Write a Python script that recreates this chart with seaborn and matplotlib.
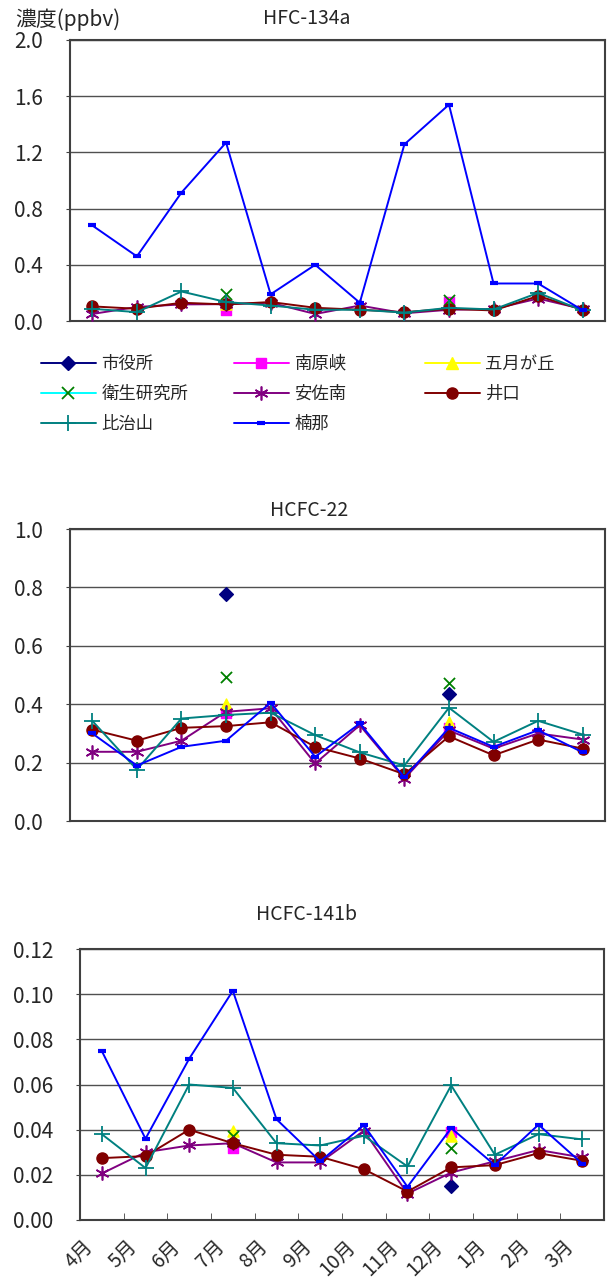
import numpy as np
import pandas as pd
import seaborn as sns
import matplotlib.pyplot as plt
from matplotlib.transforms import ScaledTranslation

sns.set_style("white")
plt.rcParams['font.family'] = ['Noto Sans CJK JP', 'DejaVu Sans']

nan = np.nan
months = ['4月', '5月', '6月', '7月', '8月', '9月', '10月', '11月', '12月', '1月', '2月', '3月']
stations = ['市役所', '南原峡', '五月が丘', '衛生研究所', '安佐南', '井口', '比治山', '楠那']

# HFC-134a
hfc134a_shiyakusho = [nan, nan, nan, 0.12, nan, nan, nan, nan, 0.09, nan, nan, nan]
hfc134a_nanbara = [nan, nan, nan, 0.08, nan, nan, nan, nan, 0.135, nan, nan, nan]
hfc134a_satsukigaoka = [nan, nan, nan, 0.12, nan, nan, nan, nan, 0.12, nan, nan, nan]
hfc134a_eisei = [nan, nan, nan, 0.19, nan, nan, nan, nan, 0.147, nan, nan, nan]
hfc134a_asaminami = [0.05, 0.10, 0.118, 0.12, 0.13, 0.05, 0.11, 0.055, 0.08, 0.085, 0.16, 0.085]
hfc134a_inokuchi = [0.104, 0.087, 0.13, 0.118, 0.135, 0.094, 0.08, 0.063, 0.087, 0.075, 0.178, 0.08]
hfc134a_hijiyama = [0.087, 0.063, 0.21, 0.135, 0.11, 0.08, 0.08, 0.06, 0.094, 0.082, 0.20, 0.075]
hfc134a_kusuna = [0.68, 0.46, 0.914, 1.27, 0.19, 0.40, 0.13, 1.257, 1.54, 0.267, 0.267, 0.076]

# HCFC-22
hcfc22_shiyakusho = [nan, nan, nan, 0.779, nan, nan, nan, nan, 0.436, nan, nan, nan]
hcfc22_nanbara = [nan, nan, nan, 0.37, nan, nan, nan, nan, 0.317, nan, nan, nan]
hcfc22_satsukigaoka = [nan, nan, nan, 0.40, nan, nan, nan, nan, 0.34, nan, nan, nan]
hcfc22_eisei = [nan, nan, nan, 0.494, nan, nan, nan, nan, 0.471, nan, nan, nan]
hcfc22_asaminami = [0.237, 0.237, 0.275, 0.374, 0.386, 0.197, 0.328, 0.145, 0.31, 0.248, 0.30, 0.279]
hcfc22_inokuchi = [0.313, 0.275, 0.319, 0.325, 0.338, 0.254, 0.214, 0.16, 0.29, 0.225, 0.279, 0.248]
hcfc22_hijiyama = [0.343, 0.176, 0.351, 0.363, 0.371, 0.294, 0.235, 0.19, 0.388, 0.271, 0.343, 0.296]
hcfc22_kusuna = [0.30, 0.19, 0.254, 0.275, 0.405, 0.22, 0.334, 0.149, 0.319, 0.254, 0.311, 0.235]

# HCFC-141b
hcfc141b_shiyakusho = [nan, nan, nan, 0.034, nan, nan, nan, nan, 0.015, nan, nan, nan]
hcfc141b_nanbara = [nan, nan, nan, 0.032, nan, nan, nan, nan, 0.0388, nan, nan, nan]
hcfc141b_satsukigaoka = [nan, nan, nan, 0.0395, nan, nan, nan, nan, 0.037, nan, nan, nan]
hcfc141b_eisei = [nan, nan, nan, 0.037, nan, nan, nan, nan, 0.032, nan, nan, nan]
hcfc141b_asaminami = [0.0206, 0.030, 0.033, 0.034, 0.0255, 0.0255, 0.0395, 0.0117, 0.021, 0.026, 0.031, 0.0277]
hcfc141b_inokuchi = [0.0274, 0.0283, 0.040, 0.034, 0.0289, 0.028, 0.0225, 0.0126, 0.0233, 0.0243, 0.0296, 0.0262]
hcfc141b_hijiyama = [0.038, 0.023, 0.060, 0.0585, 0.034, 0.033, 0.0373, 0.0237, 0.0596, 0.0289, 0.038, 0.0357]
hcfc141b_kusuna = [0.0748, 0.036, 0.0714, 0.1015, 0.0446, 0.026, 0.042, 0.0147, 0.0407, 0.0243, 0.0422, 0.025]

data = {
    'HFC-134a': [hfc134a_shiyakusho, hfc134a_nanbara, hfc134a_satsukigaoka, hfc134a_eisei,
                 hfc134a_asaminami, hfc134a_inokuchi, hfc134a_hijiyama, hfc134a_kusuna],
    'HCFC-22': [hcfc22_shiyakusho, hcfc22_nanbara, hcfc22_satsukigaoka, hcfc22_eisei,
                hcfc22_asaminami, hcfc22_inokuchi, hcfc22_hijiyama, hcfc22_kusuna],
    'HCFC-141b': [hcfc141b_shiyakusho, hcfc141b_nanbara, hcfc141b_satsukigaoka, hcfc141b_eisei,
                  hcfc141b_asaminami, hcfc141b_inokuchi, hcfc141b_hijiyama, hcfc141b_kusuna],
}

# style per station: line colour, marker, marker face, marker edge, size, edge width
styles = [
    ('#000080', 'D', '#000080', '#000080', 7, 1),
    ('#FF00FF', 's', '#FF00FF', '#FF00FF', 7, 1),
    ('#FFFF00', '^', '#FFFF00', '#FFFF00', 8, 1),
    ('#00FFFF', 'x', 'none', '#008000', 8, 1.3),
    ('#800080', (6, 2, 0), 'none', '#800080', 10, 1.2),
    ('#800000', 'o', '#800000', '#800000', 8, 1),
    ('#008080', '+', 'none', '#008080', 11, 1.3),
    ('#0000FF', '_', 'none', '#0000FF', 6, 3),
]

W, H = 611, 1281
fig = plt.figure(figsize=(W / 100, H / 100), dpi=100)

axes_px = {
    'HFC-134a': (70, 40, 605, 321),
    'HCFC-22': (70, 529, 605, 821),
    'HCFC-141b': (80, 949, 604, 1220),
}
yaxis = {
    'HFC-134a': (2.0, 0.4, '{:.1f}'),
    'HCFC-22': (1.0, 0.2, '{:.1f}'),
    'HCFC-141b': (0.12, 0.02, '{:.2f}'),
}
title_pos = {'HFC-134a': (307, 18), 'HCFC-22': (309, 510), 'HCFC-141b': (307, 915)}

x = np.arange(12)
handles = {}
for name, series in data.items():
    l, t, r, b = axes_px[name]
    ax = fig.add_axes([l / W, 1 - b / H, (r - l) / W, (b - t) / H])
    ymax, step, fmt = yaxis[name]
    yt = np.round(np.arange(0, ymax + step / 2, step), 3)
    for gy in yt[1:]:
        ax.axhline(gy, color='#505050', lw=1, zorder=0)
    for st, vals, (lc, mk, mf, me, ms, mew) in zip(stations, series, styles):
        df = pd.DataFrame({'x': x, 'y': vals})
        sparse = np.isnan(vals).sum() > 6
        if sparse:
            df = df.dropna()
            sns.scatterplot(data=df, x='x', y='y', ax=ax, marker=mk, color=mf if mf != 'none' else me,
                            edgecolor=me if mf != 'none' else None, s=ms ** 2, linewidth=mew, zorder=3)
        else:
            sns.lineplot(data=df, x='x', y='y', ax=ax, color=lc, lw=1.4, marker=mk, markersize=ms,
                         markerfacecolor=mf, markeredgecolor=me, markeredgewidth=mew, zorder=3)
        if name == 'HFC-134a':
            handles[st] = plt.Line2D([], [], color=lc, lw=1.4, marker=mk, markersize=ms,
                                     markerfacecolor=mf, markeredgecolor=me, markeredgewidth=mew)
    ax.set_xlim(-0.5, 11.5)
    ax.set_ylim(0, ymax)
    ax.set_yticks(yt)
    ax.set_yticklabels([fmt.format(v) for v in yt], fontsize=15)
    ax.tick_params(axis='y', direction='out', length=3, pad=16.5, color='#404040', left=True)
    ax.set_xlabel('')
    ax.set_ylabel('')
    for sp in ax.spines.values():
        sp.set_color('#404040')
        sp.set_linewidth(1.5)
    if name == 'HCFC-141b':
        ax.set_xticks(x)
        ax.set_xticks(np.arange(0.5, 11, 1), minor=True)
        ax.set_xticklabels(months, fontsize=14, rotation=45, ha='right', va='center',
                           rotation_mode='anchor')
        ax.tick_params(axis='x', which='major', length=0, pad=17)
        ax.tick_params(axis='x', which='minor', direction='in', length=5, color='#404040', bottom=True)
        for lab in ax.get_xticklabels():
            lab.set_transform(lab.get_transform() + ScaledTranslation(-0.12, 0, fig.dpi_scale_trans))
    else:
        ax.set_xticks([])
    tx, ty = title_pos[name]
    fig.text(tx / W, 1 - ty / H, name, ha='center', va='center', fontsize=14)

fig.text(15 / W, 1 - 20 / H, '濃度(ppbv)', ha='left', va='center', fontsize=15)

# legend: three columns placed by hand
cols = [['市役所', '衛生研究所', '比治山'], ['南原峡', '安佐南', '楠那'], ['五月が丘', '井口']]
col_x = [32, 225, 416]
for names, cx in zip(cols, col_x):
    fig.legend([handles[n] for n in names], names, loc='upper left',
               bbox_to_anchor=(cx / W, 1 - 346 / H), frameon=False, fontsize=12.5,
               handlelength=3.2, handletextpad=0.3, labelspacing=0.7, borderpad=0)

fig.savefig('out.png', dpi=100)
